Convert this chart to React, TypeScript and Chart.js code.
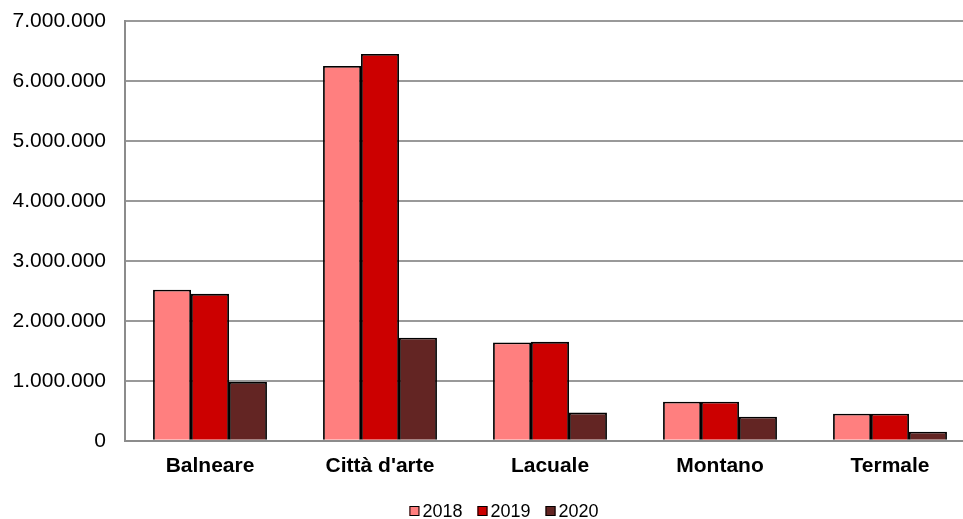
import React, { useEffect, useRef } from "react";
import { Chart, registerables } from "chart.js";

Chart.register(...registerables);

const categories = ["Balneare", "Città d'arte", "Lacuale", "Montano", "Termale"];
const series2018 = [2520000, 6250000, 1640000, 650000, 450000];
const series2019 = [2450000, 6450000, 1650000, 650000, 450000];
const series2020 = [980000, 1720000, 470000, 400000, 150000];
const seriesLabels = ["2018", "2019", "2020"];
const seriesColors = ["#FF7F7F", "#CC0000", "#632523"];
const yTickStep = 1000000;
const yMax = 7000000;

const FONT = "'Liberation Sans', Arial, sans-serif";
const CANVAS_W = 975;
const CANVAS_H = 519;

function fmt(v: number): string {
  return Math.round(v).toString().replace(/\B(?=(\d{3})+(?!\d))/g, ".");
}

const legendPlugin = {
  id: "customLegend",
  afterDraw(chart: any) {
    const ctx = chart.ctx as CanvasRenderingContext2D;
    const fontSize = 18;
    const box = 10;
    const gap = 3;
    const itemGap = 15;
    ctx.save();
    ctx.font = `${fontSize}px ${FONT}`;
    const items = chart.data.datasets.map((ds: any) => ({
      text: ds.label as string,
      color: ds.backgroundColor as string,
      w: box + gap + ctx.measureText(ds.label).width,
    }));
    const total = items.reduce((s: number, it: any) => s + it.w, 0) + itemGap * (items.length - 1);
    const centerX = 504;
    const cy = 511;
    let x = centerX - total / 2;
    ctx.textBaseline = "middle";
    ctx.textAlign = "left";
    for (const it of items) {
      ctx.fillStyle = it.color;
      ctx.fillRect(x, cy - box / 2, box, box);
      ctx.strokeStyle = "#000";
      ctx.lineWidth = 1;
      ctx.strokeRect(x + 0.5, cy - box / 2 + 0.5, box - 1, box - 1);
      ctx.fillStyle = "#000";
      ctx.fillText(it.text, x + box + gap, cy + 1);
      x += it.w + itemGap;
    }
    ctx.restore();
  },
};

export default function App() {
  const ref = useRef<HTMLCanvasElement>(null);
  useEffect(() => {
    document.body.style.margin = "0";
    const values = [series2018, series2019, series2020];
    const chart = new Chart(ref.current!, {
      type: "bar",
      data: {
        labels: categories,
        datasets: values.map((d, i) => ({
          label: seriesLabels[i],
          data: d,
          backgroundColor: seriesColors[i],
          borderColor: "#000000",
          borderWidth: 1.8,
          barPercentage: 1,
          categoryPercentage: 0.67,
        })),
      },
      options: {
        animation: false,
        responsive: false,
        maintainAspectRatio: false,
        layout: { padding: { top: 21, right: 0, left: 12, bottom: 27 } },
        scales: {
          x: {
            grid: { display: false, drawTicks: false },
            border: { display: true, color: "#8c8c8c", width: 2 },
            afterFit: (s: any) => {
              s.paddingLeft = 0;
              s.paddingRight = 0;
            },
            ticks: {
              color: "#000000",
              font: { family: FONT, size: 21, weight: "bold" },
              padding: 13,
              maxRotation: 0,
            },
          },
          y: {
            min: 0,
            max: yMax,
            grid: { color: "#999999", lineWidth: 2, drawTicks: false },
            border: { display: true, color: "#8c8c8c", width: 2 },
            afterFit: (s: any) => {
              s.width = 113;
              s.paddingTop = 0;
              s.paddingBottom = 0;
            },
            ticks: {
              stepSize: yTickStep,
              color: "#000000",
              font: { family: FONT, size: 21 },
              padding: 19,
              callback: (v: any) => fmt(Number(v)),
            },
          },
        },
        plugins: {
          legend: { display: false },
          tooltip: { enabled: false },
        },
      },
      plugins: [legendPlugin],
    });
    return () => chart.destroy();
  }, []);
  return (
    <div style={{ position: "absolute", left: 0, top: 0, width: 963, height: 519, overflow: "hidden", background: "#fff" }}>
      <canvas ref={ref} width={CANVAS_W} height={CANVAS_H} style={{ width: CANVAS_W, height: CANVAS_H, display: "block" }} />
    </div>
  );
}
